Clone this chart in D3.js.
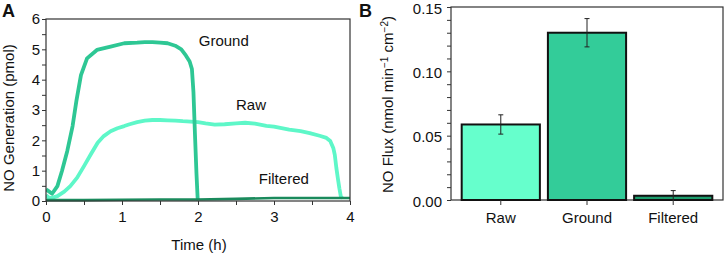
<!DOCTYPE html>
<html>
<head>
<meta charset="utf-8">
<script src="https://cdn.jsdelivr.net/npm/d3@7"></script>
<style>
  body { margin: 0; background: #fff; }
  svg text { font-family: "Liberation Sans", Arial, sans-serif; fill: #111; }
</style>
</head>
<body>
<svg id="chart" width="726" height="256"></svg>
<script>
// panel A: time series (t in h, NO in pmol)
const groundCurve = [[0,0.38],[0.02,0.35],[0.08,0.24],[0.15,0.49],[0.21,0.99],[0.28,1.65],[0.35,2.47],[0.4,3.3],[0.46,4.15],[0.54,4.7],[0.67,4.98],[0.85,5.09],[1.03,5.2],[1.2,5.22],[1.3,5.24],[1.4,5.24],[1.5,5.22],[1.6,5.2],[1.7,5.12],[1.78,5.0],[1.84,4.8],[1.89,4.6],[1.92,4.35],[1.94,3.6],[1.96,2.2],[1.98,0.9],[1.995,0.1],[2.0,0.03]];
const rawCurve = [[0,0.2],[0.03,0.12],[0.06,0.09],[0.15,0.16],[0.24,0.31],[0.32,0.49],[0.41,0.77],[0.5,1.15],[0.59,1.54],[0.68,1.92],[0.76,2.14],[0.85,2.3],[0.94,2.4],[1.03,2.47],[1.1,2.53],[1.2,2.6],[1.3,2.65],[1.4,2.67],[1.5,2.67],[1.6,2.66],[1.7,2.65],[1.8,2.63],[1.9,2.62],[2.0,2.6],[2.1,2.56],[2.22,2.52],[2.35,2.53],[2.5,2.56],[2.62,2.58],[2.75,2.55],[2.9,2.48],[3.0,2.45],[3.1,2.4],[3.2,2.35],[3.35,2.3],[3.47,2.24],[3.6,2.15],[3.69,2.08],[3.74,1.98],[3.78,1.75],[3.8,1.52],[3.82,1.1],[3.84,0.75],[3.86,0.42],[3.88,0.14],[3.9,0.1]];
const filteredCurve = [[0,0.03],[0.5,0.03],[1,0.04],[1.5,0.05],[2,0.05],[2.5,0.07],[3,0.1],[3.5,0.1],[4,0.1]];

const curveLabels = ["Ground", "Raw", "Filtered"];
const curveLabelPos = [[2.01, 5.1], [2.5, 3.0], [2.8, 0.55]];
const timeTicks = [0, 1, 2, 3, 4];
const genTicks = [0, 1, 2, 3, 4, 5, 6];

// panel B: bar chart
const samples = ["Raw", "Ground", "Filtered"];
const fluxMean = [0.0587, 0.130, 0.0033];
const fluxErr = [0.0075, 0.011, 0.004];
const fluxTicks = [0, 0.05, 0.10, 0.15];

const lineColors = ["#2ec794", "#5ef7c8", "#1a8a5c"];
const barColors = ["#66ffcc", "#33cc99", "#1d9e6e"];
const fs = 15;

const svg = d3.select("#chart");

// ---------- panel A ----------
const A = {left: 46, right: 350, top: 19, bottom: 201};
const x = d3.scaleLinear().domain([0, 4]).range([A.left, A.right]);
const y = d3.scaleLinear().domain([0, 6]).range([A.bottom, A.top]);

const gA = svg.append("g");

gA.append("defs").append("clipPath").attr("id", "clipA")
    .append("rect").attr("x", A.left).attr("y", A.top)
    .attr("width", A.right - A.left).attr("height", A.bottom - A.top + 2);

const line = d3.line().x(d => x(d[0])).y(d => y(d[1]));

const curves = [rawCurve, groundCurve, filteredCurve];
const curveColor = [lineColors[1], lineColors[0], lineColors[2]];
const curveWidth = [3.8, 3.8, 2.6];
gA.append("g").attr("clip-path", "url(#clipA)")
    .selectAll("path")
    .data(curves)
    .join("path")
    .attr("d", line)
    .attr("fill", "none")
    .attr("stroke", (d, i) => curveColor[i])
    .attr("stroke-width", (d, i) => curveWidth[i])
    .attr("stroke-linejoin", "round");

// frame
gA.append("rect")
    .attr("x", A.left).attr("y", A.top)
    .attr("width", A.right - A.left).attr("height", A.bottom - A.top)
    .attr("fill", "none").attr("stroke", "#333").attr("stroke-width", 1.2);

const xAxisA = d3.axisBottom(x).ticks(8).tickSize(4).tickSizeOuter(0)
    .tickFormat(d => timeTicks.includes(d) ? d : "");
gA.append("g")
    .attr("transform", `translate(0,${A.bottom})`)
    .call(xAxisA)
    .call(g => g.select(".domain").remove())
    .call(g => g.selectAll("line").attr("stroke", "#333"))
    .call(g => g.selectAll("text").attr("font-size", fs).attr("dy", "0.9em").attr("fill", "#111"));

const yAxisA = d3.axisLeft(y).ticks(12).tickSize(4).tickSizeOuter(0)
    .tickFormat(d => genTicks.includes(d) ? d : "");
gA.append("g")
    .attr("transform", `translate(${A.left},0)`)
    .call(yAxisA)
    .call(g => g.select(".domain").remove())
    .call(g => g.selectAll("line").attr("stroke", "#333"))
    .call(g => g.selectAll("text").attr("font-size", fs).attr("x", -6).attr("fill", "#111"));

gA.selectAll(".clabel")
    .data(curveLabels)
    .join("text")
    .attr("class", "clabel")
    .attr("x", (d, i) => x(curveLabelPos[i][0]))
    .attr("y", (d, i) => y(curveLabelPos[i][1]))
    .attr("font-size", fs)
    .text(d => d);

gA.append("text")
    .attr("x", (A.left + A.right) / 2 + 1).attr("y", 250)
    .attr("text-anchor", "middle").attr("font-size", fs)
    .text("Time (h)");

gA.append("text")
    .attr("transform", `translate(14,${(A.top + A.bottom) / 2 + 8}) rotate(-90)`)
    .attr("text-anchor", "middle").attr("font-size", fs)
    .text("NO Generation (pmol)");

gA.append("text")
    .attr("x", 2).attr("y", 17)
    .attr("font-size", 18).attr("font-weight", "bold")
    .text("A");

// ---------- panel B ----------
const B = {left: 451, right: 723, top: 7, bottom: 200};
const xb = d3.scaleBand().domain(samples).range([B.left, B.right])
    .paddingInner(0.093).paddingOuter(0.124);
const yb = d3.scaleLinear().domain([0, 0.15]).range([B.bottom, B.top]);

const gB = svg.append("g");

gB.append("rect")
    .attr("x", B.left).attr("y", B.top)
    .attr("width", B.right - B.left).attr("height", B.bottom - B.top)
    .attr("fill", "none").attr("stroke", "#333").attr("stroke-width", 1.2);

gB.selectAll(".bar")
    .data(samples)
    .join("rect")
    .attr("class", "bar")
    .attr("x", d => xb(d))
    .attr("width", xb.bandwidth())
    .attr("y", (d, i) => yb(fluxMean[i]))
    .attr("height", (d, i) => yb(0) - yb(fluxMean[i]))
    .attr("fill", (d, i) => barColors[i])
    .attr("stroke", "#111")
    .attr("stroke-width", 2);

const err = gB.selectAll(".err")
    .data(samples)
    .join("g")
    .attr("class", "err")
    .attr("transform", d => `translate(${xb(d) + xb.bandwidth() / 2},0)`)
    .attr("stroke", "#222").attr("stroke-width", 1);
err.append("line")
    .attr("y1", (d, i) => yb(fluxMean[i] + fluxErr[i]))
    .attr("y2", (d, i) => yb(Math.max(0, fluxMean[i] - fluxErr[i])));
err.append("line")
    .attr("x1", -2.5).attr("x2", 2.5)
    .attr("y1", (d, i) => yb(fluxMean[i] + fluxErr[i]))
    .attr("y2", (d, i) => yb(fluxMean[i] + fluxErr[i]));
err.filter((d, i) => fluxMean[i] - fluxErr[i] > 0)
    .append("line")
    .attr("x1", -2.5).attr("x2", 2.5)
    .attr("y1", d => yb(fluxMean[samples.indexOf(d)] - fluxErr[samples.indexOf(d)]))
    .attr("y2", d => yb(fluxMean[samples.indexOf(d)] - fluxErr[samples.indexOf(d)]));

gB.append("g")
    .attr("transform", `translate(0,${B.bottom})`)
    .call(d3.axisBottom(xb).tickSize(5).tickSizeOuter(0))
    .call(g => g.select(".domain").remove())
    .call(g => g.selectAll("line").attr("stroke", "#333"))
    .call(g => g.selectAll("text").attr("font-size", fs).attr("dy", "1.0em").attr("fill", "#111"));

gB.append("g")
    .attr("transform", `translate(${B.left},0)`)
    .call(d3.axisLeft(yb).ticks(15).tickSize(4).tickSizeOuter(0)
        .tickFormat(d => fluxTicks.some(t => Math.abs(t - d) < 1e-9) ? d3.format(".2f")(d) : ""))
    .call(g => g.select(".domain").remove())
    .call(g => g.selectAll("line").attr("stroke", "#333"))
    .call(g => g.selectAll("text").attr("font-size", fs).attr("x", -9).attr("dy", "0.4em").attr("fill", "#111"));

const yl = gB.append("text")
    .attr("transform", `translate(393,${(B.top + B.bottom) / 2 + 1}) rotate(-90)`)
    .attr("text-anchor", "middle").attr("font-size", fs);
yl.append("tspan").text("NO Flux (nmol min");
yl.append("tspan").attr("dy", -5).attr("font-size", 10).text("−1");
yl.append("tspan").attr("dy", 5).text(" cm");
yl.append("tspan").attr("dy", -5).attr("font-size", 10).text("−2");
yl.append("tspan").attr("dy", 5).text(")");

gB.append("text")
    .attr("x", 359).attr("y", 17)
    .attr("font-size", 18).attr("font-weight", "bold")
    .text("B");
</script>
</body>
</html>
